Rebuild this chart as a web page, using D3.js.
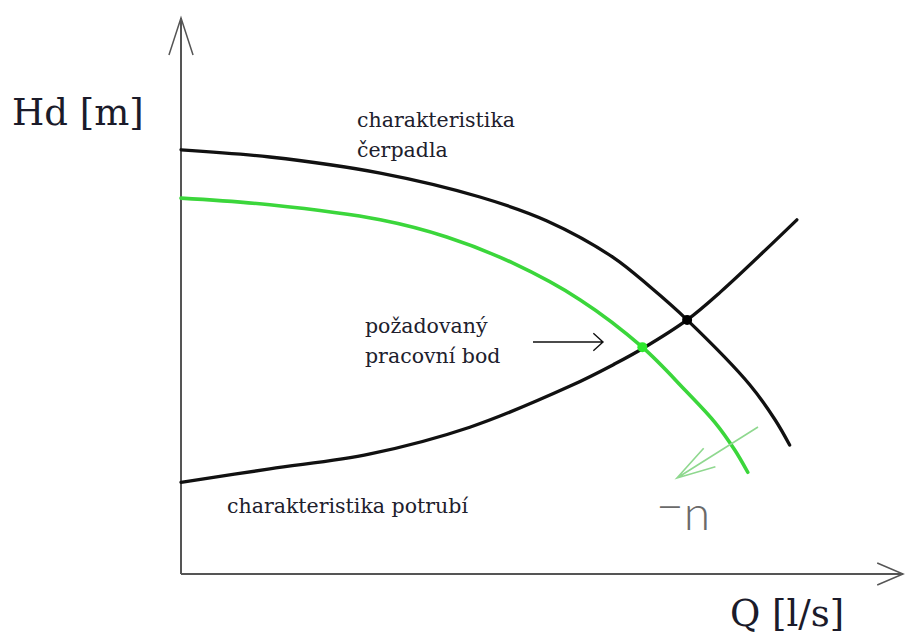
<!DOCTYPE html>
<html>
<head>
<meta charset="utf-8">
<script src="https://cdn.jsdelivr.net/npm/d3@7"></script>
<style>
  body { margin: 0; background: #fff; }
  svg text.serif { font-family: "DejaVu Serif", serif; }
  svg text.hand { font-family: Lato, "Open Sans", sans-serif; font-weight: 300; }
</style>
</head>
<body>
<svg class="chart" width="905" height="637"></svg>
<script>
// curves, axis units 0..100
const pumpQ = [0, 12.3, 27.6, 41.4, 50.7, 59.8, 65.0, 70.1, 78.8, 82.3, 84.3];
const pumpH = [76.3, 75.0, 72.1, 67.8, 63.5, 57.0, 51.6, 45.7, 34.0, 27.7, 23.2];

const reducedQ = [0, 12.3, 27.6, 36.8, 46.0, 55.3, 63.9, 69.8, 74.0, 76.7, 78.5];
const reducedH = [67.6, 66.4, 63.7, 60.6, 55.9, 49.3, 40.8, 33.1, 27.2, 22.3, 18.3];

const pipeQ = [0, 12.3, 26.2, 40.0, 53.9, 60.1, 64.0, 70.1, 74.7, 85.3];
const pipeH = [16.5, 18.9, 21.6, 26.4, 33.8, 37.8, 40.6, 45.7, 50.7, 63.7];

const operatingPoint = [70.1, 45.7];
const requiredPoint = [63.9, 40.8];

const width = 905;
const height = 637;

const svg = d3.select('svg.chart');

const x = d3.scaleLinear().domain([0, 100]).range([181, 903]);
const y = d3.scaleLinear().domain([0, 100]).range([574, 18]);

const line = d3.line()
    .x(d => x(d[0]))
    .y(d => y(d[1]))
    .curve(d3.curveCatmullRom.alpha(0.5));

const zip = (a, b) => a.map((v, i) => [v, b[i]]);

// open arrow head: tip, point it comes from, barb length, half angle
function arrowHead(tip, from, len, ang){
  const a = Math.atan2(from[1] - tip[1], from[0] - tip[0]);
  const r = ang * Math.PI / 180;
  const p1 = [tip[0] + len * Math.cos(a - r), tip[1] + len * Math.sin(a - r)];
  const p2 = [tip[0] + len * Math.cos(a + r), tip[1] + len * Math.sin(a + r)];
  return `M${p1}L${tip}L${p2}`;
}

// axes
const axisG = svg.append('g')
    .attr('fill', 'none')
    .attr('stroke', '#555')
    .attr('stroke-width', 2);

axisG.append('path')
    .attr('d', `M${x(0)},${y(0)}V${y(100)}`);
axisG.append('path')
    .attr('d', arrowHead([x(0), y(100)], [x(0), y(0)], 39, 18))
    .attr('stroke-width', 1.5);

axisG.append('path')
    .attr('d', `M${x(0)},${y(0)}H${x(100)}`);
axisG.append('path')
    .attr('d', arrowHead([x(100), y(0)], [x(0), y(0)], 28, 23))
    .attr('stroke-width', 1.5);

// curves
svg.append('path')
    .datum(zip(pipeQ, pipeH))
    .attr('d', line)
    .attr('fill', 'none')
    .attr('stroke', '#111')
    .attr('stroke-width', 3.3)
    .attr('stroke-linecap', 'round');

svg.append('path')
    .datum(zip(pumpQ, pumpH))
    .attr('d', line)
    .attr('fill', 'none')
    .attr('stroke', '#111')
    .attr('stroke-width', 3.3)
    .attr('stroke-linecap', 'round');

svg.append('path')
    .datum(zip(reducedQ, reducedH))
    .attr('d', line)
    .attr('fill', 'none')
    .attr('stroke', '#3bd63b')
    .attr('stroke-width', 3.6)
    .attr('stroke-linecap', 'round');

// points
svg.append('circle')
    .attr('cx', x(operatingPoint[0]))
    .attr('cy', y(operatingPoint[1]))
    .attr('r', 5)
    .attr('fill', '#000');

svg.append('circle')
    .attr('cx', x(requiredPoint[0]))
    .attr('cy', y(requiredPoint[1]))
    .attr('r', 5)
    .attr('fill', '#2ee82e');

// green arrow (speed reduction)
const gTail = [758, 427];
const gTip = [677, 478];
svg.append('path')
    .attr('d', `M${gTail}L${gTip}` + arrowHead(gTip, gTail, 40, 16))
    .attr('fill', 'none')
    .attr('stroke', '#8fd88f')
    .attr('stroke-width', 1.6);

// pointer arrow to required point
const bTail = [533, 342];
const bTip = [603, 342];
svg.append('path')
    .attr('d', `M${bTail}L${bTip}` + arrowHead(bTip, bTail, 13, 42))
    .attr('fill', 'none')
    .attr('stroke', '#111')
    .attr('stroke-width', 1.4);

// texts
svg.append('text')
    .attr('class', 'serif')
    .attr('x', 12).attr('y', 125)
    .attr('font-size', 37)
    .attr('fill', '#1b1b2a')
    .text('Hd [m]');

svg.append('text')
    .attr('class', 'serif')
    .attr('x', 730).attr('y', 626)
    .attr('font-size', 37)
    .attr('fill', '#1b1b2a')
    .text('Q [l/s]');

const small = svg.append('g')
    .attr('font-size', 20.5)
    .attr('fill', '#20202c');

const lbl1 = small.append('text').attr('class', 'serif').attr('x', 357).attr('y', 127);
lbl1.append('tspan').text('charakteristika');
lbl1.append('tspan').attr('x', 357).attr('dy', 30).text('čerpadla');

const lbl2 = small.append('text').attr('class', 'serif').attr('x', 365).attr('y', 333);
lbl2.append('tspan').text('požadovaný');
lbl2.append('tspan').attr('x', 365).attr('dy', 30).text('pracovní bod');

small.append('text')
    .attr('class', 'serif')
    .attr('x', 227).attr('y', 513)
    .text('charakteristika potrubí');

const nTxt = svg.append('text')
    .attr('class', 'hand')
    .attr('x', 656).attr('y', 530)
    .attr('font-size', 48)
    .attr('fill', '#6a6a6a');
nTxt.append('tspan').attr('dy', -7).text('−');
nTxt.append('tspan').attr('dy', 7).text('n');
</script>
</body>
</html>
